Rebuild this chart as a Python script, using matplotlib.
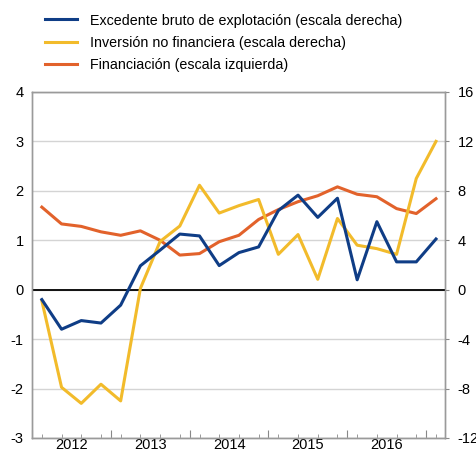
import numpy as np
import matplotlib.pyplot as plt

plt.rcParams['font.family'] = ['Liberation Sans', 'DejaVu Sans']
plt.rcParams['font.size'] = 10
plt.rcParams['axes.unicode_minus'] = False

# Quarterly data, 2012Q1 .. 2017Q1
quarters = ['2012Q1', '2012Q2', '2012Q3', '2012Q4',
            '2013Q1', '2013Q2', '2013Q3', '2013Q4',
            '2014Q1', '2014Q2', '2014Q3', '2014Q4',
            '2015Q1', '2015Q2', '2015Q3', '2015Q4',
            '2016Q1', '2016Q2', '2016Q3', '2016Q4',
            '2017Q1']

# right scale
excedente = [-0.8, -3.2, -2.5, -2.7, -1.25, 1.93, 3.2, 4.5, 4.35, 1.95, 3.0,
             3.46, 6.4, 7.65, 5.85, 7.4, 0.8, 5.5, 2.25, 2.25, 4.1]
inversion = [-0.9, -7.9, -9.2, -7.65, -9.0, 0.1, 3.9, 5.15, 8.45, 6.2, 6.8,
             7.3, 2.86, 4.46, 0.84, 5.76, 3.6, 3.32, 2.86, 9.0, 12.0]
# left scale
financiacion = [1.67, 1.33, 1.28, 1.17, 1.10, 1.19, 1.0, 0.70, 0.73, 0.97, 1.10,
                1.42, 1.62, 1.78, 1.90, 2.08, 1.93, 1.88, 1.64, 1.54, 1.84]

labels = ['Excedente bruto de explotación (escala derecha)',
          'Inversión no financiera (escala derecha)',
          'Financiación (escala izquierda)']
years = [2012, 2013, 2014, 2015, 2016]

BLUE = '#0f3d86'
YELLOW = '#f2bb2b'
ORANGE = '#e2622b'
GRID = '#d4d4d4'

# quarter centres as decimal years
x = np.array([int(q[:4]) + (int(q[-1]) - 0.5) / 4 for q in quarters])

fig = plt.figure(figsize=(4.76, 4.5), dpi=100)
ax = fig.add_axes([0.0672, 0.0267, 0.8678, 0.769])
ax2 = ax.twinx()

ax.set_ylim(-3, 4)
ax2.set_ylim(-12, 16)
ax.set_xlim(2012.0, 2017.24)
ax.set_yticks(range(-3, 5))
ax2.set_yticks(range(-12, 17, 4))

ax.grid(axis='y', color=GRID, linewidth=1)
ax.axhline(0, color='black', linewidth=1.3, zorder=3)

l3, = ax.plot(x, financiacion, color=ORANGE, linewidth=2.2, zorder=4)
l1, = ax2.plot(x, excedente, color=BLUE, linewidth=2.2, zorder=5)
l2, = ax2.plot(x, inversion, color=YELLOW, linewidth=2.2, zorder=4)

# x axis: ticks at year boundaries and quarter centres, labels mid-year
ax.set_xticks(years + [2017])
ax.set_xticklabels([])
ax.set_xticks(x, minor=True)
ax.tick_params(axis='x', which='major', direction='in', length=6, color='#888888')
ax.tick_params(axis='x', which='minor', direction='in', length=3, color='#888888')
for yr in years:
    ax.annotate(str(yr), xy=(yr + 0.5, 0.003), xycoords=('data', 'figure fraction'),
                ha='center', va='baseline', fontsize=10.5, annotation_clip=False)

ax.tick_params(axis='y', length=0, labelsize=10.5, pad=6)
ax2.tick_params(axis='y', length=3, color='#888888', labelsize=10.5, pad=6)

for a in (ax, ax2):
    for s in a.spines.values():
        s.set_color('#9a9a9a')
        s.set_linewidth(1)

fig.legend([l1, l2, l3], labels, loc='upper left', bbox_to_anchor=(0.095, 0.97),
           frameon=False, borderpad=0, borderaxespad=0, handlelength=2.2,
           handletextpad=0.95, labelspacing=0.58, fontsize=10.3)

fig.savefig('out.png', dpi=100)
